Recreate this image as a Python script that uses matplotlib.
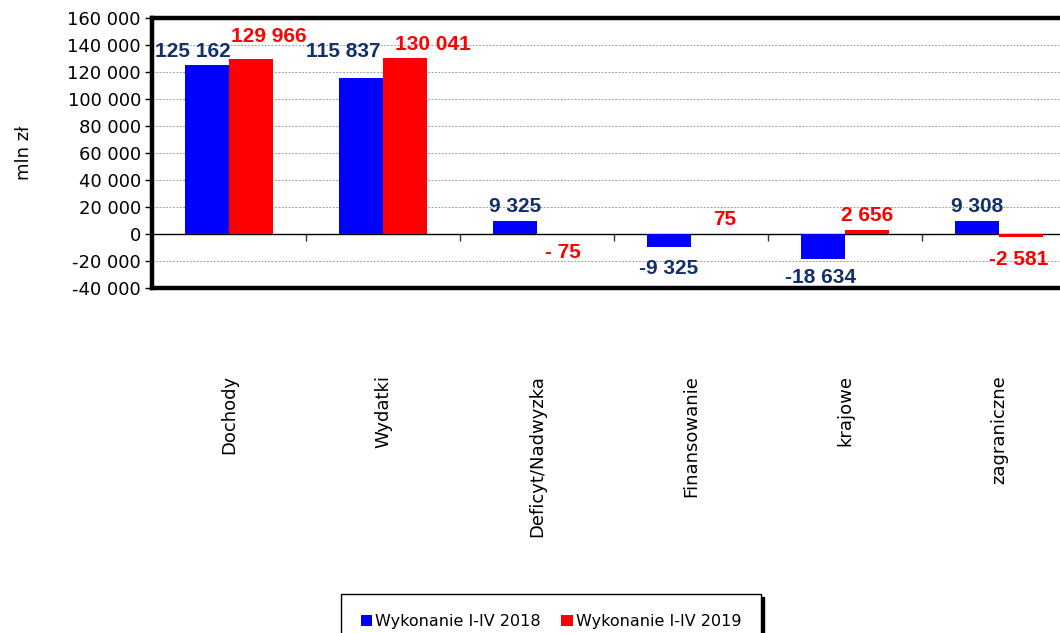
import matplotlib
matplotlib.use("Agg")
import matplotlib.pyplot as plt
from matplotlib.patches import Patch

categories = ["Dochody", "Wydatki", "Deficyt/Nadwyzka", "Finansowanie", "krajowe", "zagraniczne"]
series_names = ["Wykonanie I-IV 2018", "Wykonanie I-IV 2019"]
values_2018 = [125162, 115837, 9325, -9325, -18634, 9308]
values_2019 = [129966, 130041, -75, 75, 2656, -2581]
labels_2018 = ["125 162", "115 837", "9 325", "-9 325", "-18 634", "9 308"]
labels_2019 = ["129 966", "130 041", "- 75", "75", "2 656", "-2 581"]
yticks = list(range(-40000, 160001, 20000))

# label offsets (pixels) relative to bar end
off_2018 = [(-14, 14), (-18, 26), (0, 15), (0, -22), (-2, -18), (0, 15)]
off_2019 = [(18, 22), (28, 14), (4, -18), (12, 14), (0, 15), (-2, -22)]

BLUE = "#0000FF"
RED = "#FF0000"
NAVY = "#13306A"

fig = plt.figure(figsize=(10.6, 6.33), dpi=100)
ax = fig.add_axes([152/1060, 1-288/633, (1076-152)/1060, 270/633])

w = 0.286
x = list(range(len(categories)))
b1 = ax.bar([i - w/2 for i in x], values_2018, width=w, color=BLUE, zorder=3)
b2 = ax.bar([i + w/2 for i in x], values_2019, width=w, color=RED, zorder=3)

for i in x:
    ax.annotate(labels_2018[i], (i - w/2, values_2018[i]), xytext=off_2018[i],
                textcoords="offset pixels", ha="center", va="center",
                fontsize=15, fontweight="bold", color=NAVY, family="Liberation Sans", zorder=5)
    ax.annotate(labels_2019[i], (i + w/2, values_2019[i]), xytext=off_2019[i],
                textcoords="offset pixels", ha="center", va="center",
                fontsize=15, fontweight="bold", color=RED, family="Liberation Sans", zorder=5)

ax.set_xlim(-0.5, len(categories) - 0.5)
ax.set_ylim(-40000, 160000)
ax.set_yticks(yticks)
ax.set_yticklabels([f"{v:,}".replace(",", " ") for v in yticks], fontsize=13, family="DejaVu Sans")
ax.tick_params(axis="y", direction="out", length=5, width=1, pad=3)
for v in yticks:
    if v not in (0, -40000, 160000):
        ax.axhline(v, color="#a0a0a0", lw=0.7, ls=(0, (2, 1.5)), zorder=1)

ax.set_xticks(x)
ax.set_xticklabels(categories, rotation=90, fontsize=13, family="DejaVu Sans")
ax.tick_params(axis="x", length=0, pad=87*0.72)

for s in ax.spines.values():
    s.set_linewidth(3.2)
    s.set_color("black")

sec = ax.secondary_xaxis(0.2)
sec.set_xticks([i + 0.5 for i in x[:-1]])
sec.set_xticklabels([])
sec.tick_params(direction="out", length=5, width=1, color="#333333")
sec.spines["bottom"].set_linewidth(1)
sec.spines["bottom"].set_color("black")

ax.set_ylabel("mln zł", fontsize=13, family="DejaVu Sans", labelpad=25)

handles = [Patch(facecolor=BLUE, edgecolor="none"), Patch(facecolor=RED, edgecolor="none")]
leg = fig.legend(handles, series_names, loc="upper center", ncol=2,
                 bbox_to_anchor=(551/1060, 1-594/633), borderaxespad=0,
                 handlelength=0.7, handleheight=0.7, handletextpad=0.2,
                 columnspacing=1.3, fancybox=False, edgecolor="black",
                 shadow={"color": "black", "alpha": 1}, borderpad=1.25,
                 prop={"family": "DejaVu Sans", "size": 11.5})
leg.get_frame().set_linewidth(1)

fig.savefig("out.png", dpi=100)
